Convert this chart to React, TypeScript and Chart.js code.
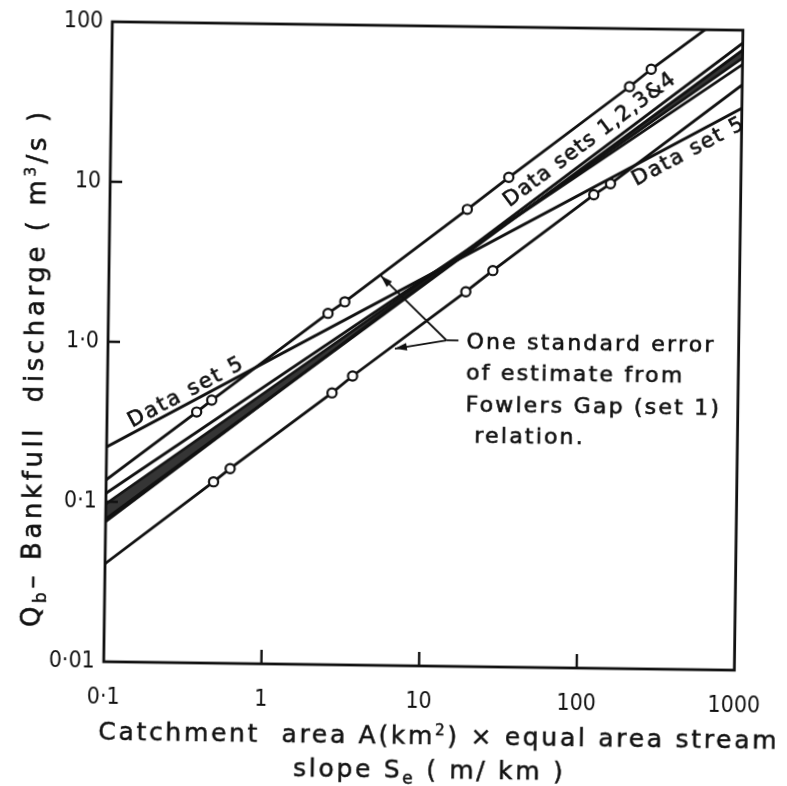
import React, { useEffect, useRef } from 'react';
import { Chart, registerables } from 'chart.js';

Chart.register(...registerables);

// Axis ticks and their printed labels
const X_TICKS = [0.1, 1, 10, 100, 1000];
const X_TICK_LABELS = ['0·1', '1', '10', '100', '1000'];
const Y_TICKS = [0.01, 0.1, 1, 10, 100];
const Y_TICK_LABELS = ['0·01', '0·1', '1·0', '10', '100'];

// Straight relations, given by their values at the two ends of the x range
const LINE_ENDS_X = [0.1, 1000];
const set1Line = [0.075, 83];
const set2Line = [0.078, 75];
const set3Line = [0.097, 67];
const set4Line = [0.113, 61];
const set5Line = [0.22, 32.5];

// One standard error bands about the Fowlers Gap (set 1) relation
const upperErrorX = [0.1, 0.37, 0.46, 2.47, 3.15, 18.5, 33.7, 193, 264, 1000];
const upperErrorY = [0.137, 0.37, 0.44, 1.57, 1.86, 7.2, 11.5, 43.4, 56, 151];
const lowerErrorX = [0.1, 0.48, 0.61, 2.66, 3.58, 18.4, 27.2, 117, 149, 1000];
const lowerErrorY = [0.041, 0.136, 0.165, 0.5, 0.64, 2.2, 3.0, 9.1, 10.7, 45.5];

// Leader arrows of the note (tips on the two error lines, shared elbow)
const NOTE_ELBOW = { x: 14.0, y: 1.09 };
const NOTE_TIP_UPPER = { x: 5.3, y: 2.72 };
const NOTE_TIP_LOWER = { x: 6.6, y: 0.957 };
const NOTE_LINES = ['One standard error', 'of estimate from', 'Fowlers Gap (set 1)', ' relation.'];

const W = 787;
const H = 786;
const INK = '#111';
const LABEL_FONT = '"DejaVu Sans", sans-serif';
const TICK_FONT = '"DejaVu Sans Condensed", "DejaVu Sans", sans-serif';

const pairs = (xs: number[], ys: number[]) => xs.map((x, i) => ({ x, y: ys[i] }));
const ends = (ys: number[]) => pairs(LINE_ENDS_X, ys);

const lineStyle = {
  showLine: true,
  borderColor: INK,
  borderWidth: 2.8,
  pointRadius: 0,
  fill: false as const,
  tension: 0,
};

const tickLabel = (ticks: number[], labels: string[]) => (v: number | string) => {
  const n = Number(v);
  const i = ticks.findIndex((t) => Math.abs(Math.log10(t) - Math.log10(n)) < 1e-6);
  return i >= 0 ? labels[i] : '';
};

const inkText = (ctx: CanvasRenderingContext2D, text: string, x: number, y: number) => {
  ctx.fillText(text, x, y);
  ctx.strokeText(text, x, y);
};

const decor = {
  id: 'decor',
  afterDatasetsDraw(chart: any) {
    const { ctx, chartArea: a, scales } = chart;
    const xs = scales.x;
    const ys = scales.y;
    const px = (p: { x: number; y: number }) => ({ x: xs.getPixelForValue(p.x), y: ys.getPixelForValue(p.y) });

    ctx.save();
    ctx.strokeStyle = INK;
    ctx.fillStyle = INK;

    // frame
    ctx.lineWidth = 2.8;
    ctx.strokeRect(a.left, a.top, a.right - a.left, a.bottom - a.top);

    // inward tick marks at the inner decades
    ctx.lineWidth = 2.4;
    ctx.beginPath();
    X_TICKS.slice(1, -1).forEach((v) => {
      const p = xs.getPixelForValue(v);
      ctx.moveTo(p, a.bottom);
      ctx.lineTo(p, a.bottom - 14);
    });
    Y_TICKS.slice(1, -1).forEach((v) => {
      const p = ys.getPixelForValue(v);
      ctx.moveTo(a.left, p);
      ctx.lineTo(a.left + 12, p);
    });
    ctx.stroke();

    // text laid along a straight relation
    const along = (text: string, ys2: number[], atX: number, offset: number, below: boolean, spacing: string) => {
      const p0 = px({ x: LINE_ENDS_X[0], y: ys2[0] });
      const p1 = px({ x: LINE_ENDS_X[1], y: ys2[1] });
      const sx = xs.getPixelForValue(atX);
      const sy = p0.y + ((sx - p0.x) * (p1.y - p0.y)) / (p1.x - p0.x);
      const ang = Math.atan2(p1.y - p0.y, p1.x - p0.x);
      ctx.save();
      ctx.translate(sx, sy);
      ctx.rotate(ang);
      ctx.font = `21px ${LABEL_FONT}`;
      (ctx as any).letterSpacing = spacing;
      ctx.lineWidth = 0.6;
      ctx.textAlign = 'left';
      ctx.textBaseline = below ? 'top' : 'alphabetic';
      inkText(ctx, text, 0, below ? offset : -offset);
      ctx.restore();
    };
    along('Data set 5', set5Line, 0.15, 5, false, '2px');
    along('Data sets 1,2,3&4', set1Line, 37, 9, false, '1.2px');
    along('Data set 5', set5Line, 190, 3, true, '1.6px');

    // note with its two leader arrows
    const elbow = px(NOTE_ELBOW);
    const arrow = (tipV: { x: number; y: number }) => {
      const tip = px(tipV);
      ctx.lineWidth = 1.8;
      ctx.beginPath();
      ctx.moveTo(elbow.x, elbow.y);
      ctx.lineTo(tip.x, tip.y);
      ctx.stroke();
      const ang = Math.atan2(tip.y - elbow.y, tip.x - elbow.x);
      ctx.save();
      ctx.translate(tip.x, tip.y);
      ctx.rotate(ang);
      ctx.beginPath();
      ctx.moveTo(0, 0);
      ctx.lineTo(-12, -3.8);
      ctx.lineTo(-12, 3.8);
      ctx.closePath();
      ctx.fill();
      ctx.restore();
    };
    arrow(NOTE_TIP_UPPER);
    arrow(NOTE_TIP_LOWER);
    ctx.lineWidth = 1.8;
    ctx.beginPath();
    ctx.moveTo(elbow.x, elbow.y);
    ctx.lineTo(elbow.x + 12, elbow.y);
    ctx.stroke();

    ctx.font = `22px ${LABEL_FONT}`;
    (ctx as any).letterSpacing = '2.2px';
    ctx.lineWidth = 0.6;
    ctx.textAlign = 'left';
    ctx.textBaseline = 'middle';
    NOTE_LINES.forEach((t, i) => {
      inkText(ctx, t, elbow.x + 20, elbow.y + 2 + i * 31.5);
    });
    ctx.restore();
  },
};

export default function App() {
  const ref = useRef<HTMLCanvasElement>(null);

  useEffect(() => {
    const canvas = ref.current;
    if (!canvas) return;
    const chart = new Chart(canvas, {
      type: 'scatter',
      data: {
        datasets: [
          { ...lineStyle, label: 'Data set 5', data: ends(set5Line) },
          { ...lineStyle, label: 'Data set 4', data: ends(set4Line) },
          {
            ...lineStyle,
            label: 'Data set 2',
            data: ends(set2Line),
            fill: { target: 3, above: 'rgba(25,25,25,0.88)', below: 'rgba(25,25,25,0.88)' },
          },
          { ...lineStyle, label: 'Data set 3', data: ends(set3Line) },
          { ...lineStyle, label: 'Data set 1 (Fowlers Gap)', data: ends(set1Line) },
          {
            ...lineStyle,
            label: '+1 standard error',
            data: pairs(upperErrorX, upperErrorY),
            pointRadius: upperErrorX.map((_, i) => (i === 0 || i === upperErrorX.length - 1 ? 0 : 4.6)),
            pointBackgroundColor: '#fff',
            pointBorderColor: INK,
            pointBorderWidth: 2.2,
          },
          {
            ...lineStyle,
            label: '-1 standard error',
            data: pairs(lowerErrorX, lowerErrorY),
            pointRadius: lowerErrorX.map((_, i) => (i === 0 || i === lowerErrorX.length - 1 ? 0 : 4.6)),
            pointBackgroundColor: '#fff',
            pointBorderColor: INK,
            pointBorderWidth: 2.2,
          },
        ],
      },
      options: {
        responsive: false,
        animation: false,
        events: [],
        layout: { padding: { left: 0, top: 26, right: 41, bottom: 0 } },
        plugins: { legend: { display: false }, tooltip: { enabled: false } },
        scales: {
          x: {
            type: 'logarithmic',
            min: 0.1,
            max: 1000,
            grid: { display: false, drawTicks: false },
            border: { display: false },
            ticks: {
              autoSkip: false,
              maxRotation: 0,
              padding: 22,
              color: INK,
              font: { family: TICK_FONT, size: 23 },
              callback: tickLabel(X_TICKS, X_TICK_LABELS),
            },
            afterBuildTicks: (s: any) => {
              s.ticks = X_TICKS.map((value) => ({ value }));
            },
            afterFit: (s: any) => {
              s.height = 120;
            },
          },
          y: {
            type: 'logarithmic',
            min: 0.01,
            max: 100,
            grid: { display: false, drawTicks: false },
            border: { display: false },
            ticks: {
              autoSkip: false,
              padding: 9,
              color: INK,
              font: { family: TICK_FONT, size: 23 },
              callback: tickLabel(Y_TICKS, Y_TICK_LABELS),
            },
            afterBuildTicks: (s: any) => {
              s.ticks = Y_TICKS.map((value) => ({ value }));
            },
            afterFit: (s: any) => {
              s.width = 108;
            },
          },
        },
      },
      plugins: [decor],
    });
    return () => chart.destroy();
  }, []);

  const titleStyle: React.CSSProperties = {
    position: 'absolute',
    fontFamily: LABEL_FONT,
    fontSize: 25,
    letterSpacing: '2.7px',
    color: INK,
    whiteSpace: 'pre',
    lineHeight: 1,
    WebkitTextStroke: '0.5px #111',
  };

  return (
    <div
      style={{
        position: 'fixed',
        left: 0,
        top: 0,
        width: W,
        height: H,
        background: '#fff',
        transform: 'rotate(0.77deg)',
        transformOrigin: '426px 346px',
      }}
    >
      <canvas ref={ref} width={W} height={H} style={{ display: 'block', position: 'absolute', left: 0, top: 0 }} />
      <div style={{ ...titleStyle, left: 0, width: 888, top: 723, textAlign: 'center' }}>
        {'Catchment  area A(km'}
        <sup style={{ fontSize: 15 }}>2</sup>
        {') × equal area stream'}
      </div>
      <div style={{ ...titleStyle, left: 0, width: 870, top: 757, textAlign: 'center' }}>
        {'slope S'}
        <sub style={{ fontSize: 17 }}>e</sub>
        {' ( m/ km )'}
      </div>
      <div
        style={{
          ...titleStyle,
          fontSize: 26,
          letterSpacing: '3.6px',
          left: 37,
          top: 373,
          transform: 'translate(-50%, -50%) rotate(-90deg)',
        }}
      >
        {'Q'}
        <sub style={{ fontSize: 17 }}>b</sub>
        {'– Bankfull  discharge ( m'}
        <sup style={{ fontSize: 15 }}>3</sup>
        {'/s )'}
      </div>
    </div>
  );
}
